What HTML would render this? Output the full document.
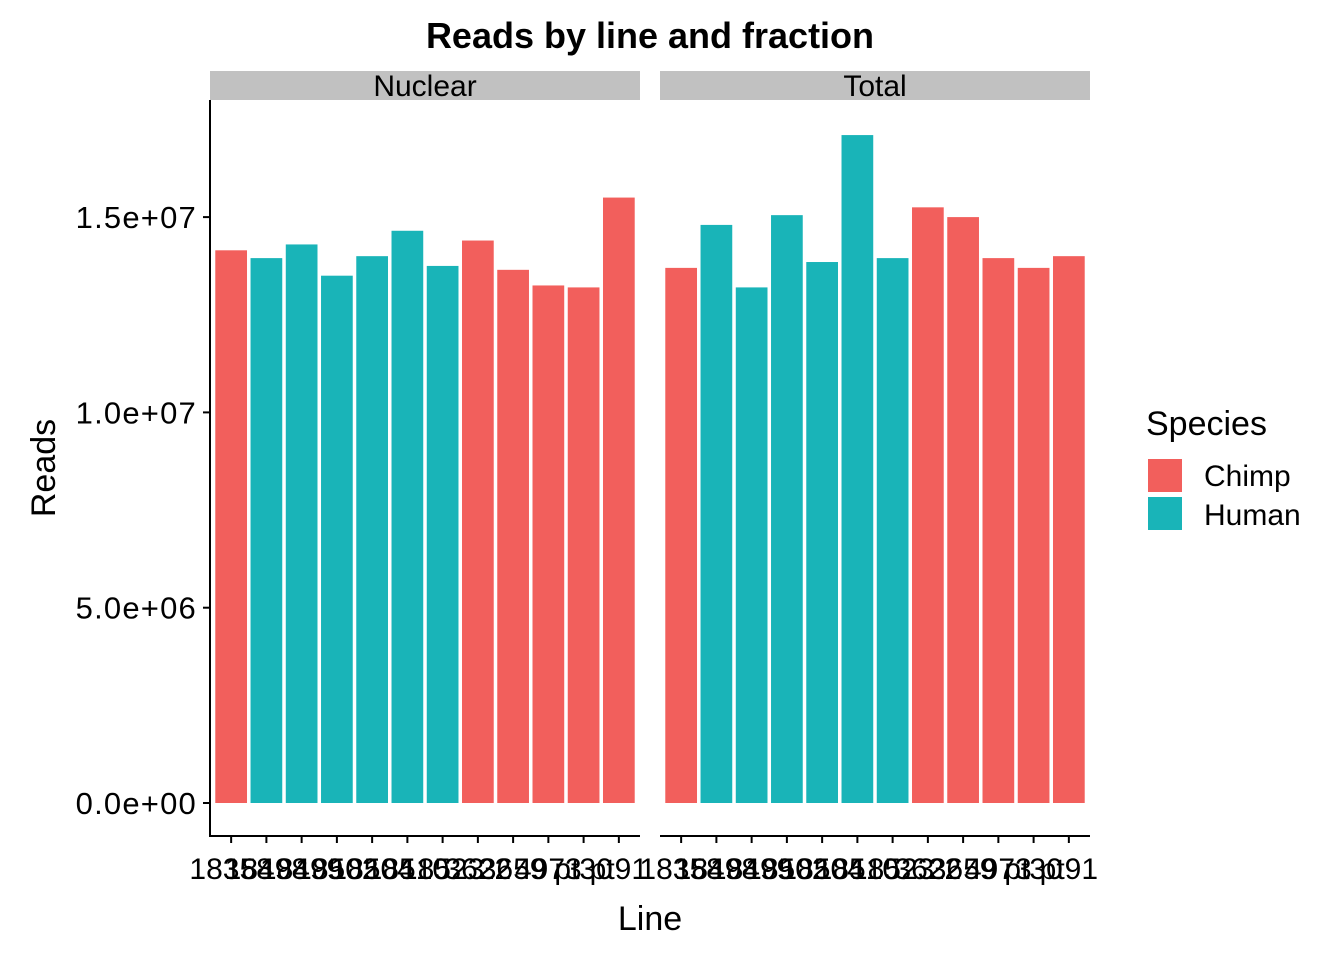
<!DOCTYPE html>
<html><head><meta charset="utf-8"><style>body{margin:0;background:#fff}svg text{font-family:"Liberation Sans",Arial,sans-serif}</style></head>
<body>
<svg id="c" width="1344" height="960" xmlns="http://www.w3.org/2000/svg">
<text x="650" y="48" text-anchor="middle" font-size="36" font-weight="bold">Reads by line and fraction</text>
<text transform="translate(55,468) rotate(-90)" text-anchor="middle" font-size="34">Reads</text>
<text x="650" y="930" text-anchor="middle" font-size="34">Line</text>
<g>
<text x="1146" y="435" font-size="34">Species</text>
<rect x="1148" y="459" width="34" height="33" fill="#F25F5C"/>
<text x="1204" y="486" font-size="30">Chimp</text>
<rect x="1148" y="497" width="34" height="33" fill="#19B4B8"/>
<text x="1204" y="525" font-size="30">Human</text>
</g>
<g id="plot"></g>
</svg>
<script>
const lines=["18358","18498","18499","18502","18504","18510","18523","3622","3659","4973","pt30","pt91"];
const species=["Chimp","Human","Human","Human","Human","Human","Human","Chimp","Chimp","Chimp","Chimp","Chimp"];
const nuclear=[14150000,13950000,14300000,13500000,14000000,14650000,13750000,14400000,13650000,13250000,13200000,15500000];
const total=[13700000,14800000,13200000,15050000,13850000,17100000,13950000,15250000,15000000,13950000,13700000,14000000];
const yTicks=[0,5000000,10000000,15000000];
const yTickLabels=["0.0e+00","5.0e+06","1.0e+07","1.5e+07"];
const panels=["Nuclear","Total"];
const ns="http://www.w3.org/2000/svg";
const g=document.getElementById('plot');
const y=v=>803-v/5000000*195.3;
function mk(t,a,p){const e=document.createElementNS(ns,t);for(const k in a)e.setAttribute(k,a[k]);(p||g).appendChild(e);return e;}
const colors={Chimp:"#F25F5C",Human:"#19B4B8"};
yTicks.forEach((v,i)=>{
 const t=mk('line',{x1:203,x2:210,y1:y(v),y2:y(v),stroke:'#000','stroke-width':2});
 
 
 const l=mk('text',{x:197,y:y(v)+11,'text-anchor':'end','font-size':31,'letter-spacing':1.2});
 l.textContent=yTickLabels[i];
 
 
});
const ax=mk('line',{x1:210,x2:210,y1:100,y2:837,stroke:'#000','stroke-width':2});


[nuclear,total].forEach((vals,p)=>{
 const x0=p?660:210,W=430,step=W/(lines.length-1+1.2);
 const x=i=>x0+(0.6+i)*step;
 const s=mk('rect',{x:x0,y:71,width:W,height:29,fill:'#C1C1C1'});
 
 
 const st=mk('text',{x:x0+W/2,y:96,'text-anchor':'middle','font-size':30});
 st.textContent=panels[p];
 
 
 vals.forEach((v,i)=>{
  const b=mk('rect',{x:x(i)-0.45*step,y:y(v),width:0.9*step,height:y(0)-y(v),fill:colors[species[i]]});
  
  
  const t=mk('line',{x1:x(i),x2:x(i),y1:836,y2:843,stroke:'#000','stroke-width':2});
  
  
  const l=mk('text',{x:x(i),y:879,'text-anchor':'middle','font-size':30});
  l.textContent=lines[i];
  
  
 });
 const xa=mk('line',{x1:x0,x2:x0+W,y1:836,y2:836,stroke:'#000','stroke-width':2});
 
 
});
</script>
</body></html>
